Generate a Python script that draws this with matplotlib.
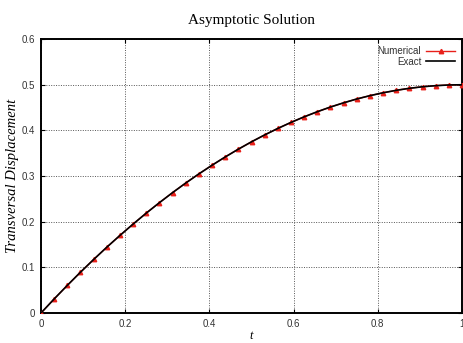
import matplotlib
matplotlib.use("Agg")
import matplotlib.pyplot as plt

# Sample times (step 1/32) and displacement values
t_vals = [0.0, 0.03125, 0.0625, 0.09375, 0.125, 0.15625, 0.1875, 0.21875,
          0.25, 0.28125, 0.3125, 0.34375, 0.375, 0.40625, 0.4375, 0.46875,
          0.5, 0.53125, 0.5625, 0.59375, 0.625, 0.65625, 0.6875, 0.71875,
          0.75, 0.78125, 0.8125, 0.84375, 0.875, 0.90625, 0.9375, 0.96875, 1.0]
numerical = [0.0, 0.0308, 0.0605, 0.0894, 0.1172, 0.1441, 0.1699, 0.1948,
             0.2188, 0.2417, 0.2637, 0.2847, 0.3047, 0.3237, 0.3418, 0.3589,
             0.375, 0.3901, 0.4043, 0.4175, 0.4297, 0.4409, 0.4512, 0.4604,
             0.4688, 0.4761, 0.4824, 0.4878, 0.4922, 0.4956, 0.4980, 0.4995, 0.5]
exact = [0.0, 0.0308, 0.0605, 0.0894, 0.1172, 0.1441, 0.1699, 0.1948,
         0.2188, 0.2417, 0.2637, 0.2847, 0.3047, 0.3237, 0.3418, 0.3589,
         0.375, 0.3901, 0.4043, 0.4175, 0.4297, 0.4409, 0.4512, 0.4604,
         0.4688, 0.4761, 0.4824, 0.4878, 0.4922, 0.4956, 0.4980, 0.4995, 0.5]

x_ticks = [0, 0.2, 0.4, 0.6, 0.8, 1]
x_tick_labels = ["0", "0.2", "0.4", "0.6", "0.8", "1"]
y_ticks = [0, 0.1, 0.2, 0.3, 0.4, 0.5, 0.6]
y_tick_labels = ["0", "0.1", "0.2", "0.3", "0.4", "0.5", "0.6"]

fig = plt.figure(figsize=(4.64, 3.43), dpi=100)
ax = fig.add_axes([0.0884, 0.0875, 0.9073, 0.7985])

ax.plot(t_vals, numerical, color="#e8201a", linewidth=1.0, marker="^",
        markersize=3.2, label="Numerical", zorder=3)
ax.plot(t_vals, exact, color="black", linewidth=1.2, label="Exact", zorder=4)

ax.set_xlim(0, 1)
ax.set_ylim(0, 0.6)
ax.set_xticks(x_ticks)
ax.set_xticklabels(x_tick_labels)
ax.set_yticks(y_ticks)
ax.set_yticklabels(y_tick_labels)
ax.tick_params(direction="in", top=True, right=True, labelsize=7,
               colors="black", length=3, pad=4)
for lab in ax.get_xticklabels() + ax.get_yticklabels():
    lab.set_family("Liberation Sans")
    lab.set_color("#333333")

ax.grid(True, linestyle=(0, (1, 1.5)), color="#555555", linewidth=0.7)
for spine in ax.spines.values():
    spine.set_linewidth(1.4)

ax.set_title("Asymptotic Solution", family="Liberation Serif", fontsize=11, pad=11)
ax.set_xlabel("t", family="Liberation Serif", style="italic", fontsize=9, labelpad=1)
ax.set_ylabel("Transversal Displacement", family="Liberation Serif",
              style="italic", fontsize=10.5, labelpad=2)

leg = ax.legend(loc="upper right", markerfirst=False, frameon=False,
                prop={"family": "Liberation Sans", "size": 7},
                handlelength=3, handletextpad=0.5, labelspacing=0.1,
                borderaxespad=0.3)
for txt in leg.get_texts():
    txt.set_ha("right")
    txt.set_color("#333333")

fig.savefig("out.png", dpi=100)
